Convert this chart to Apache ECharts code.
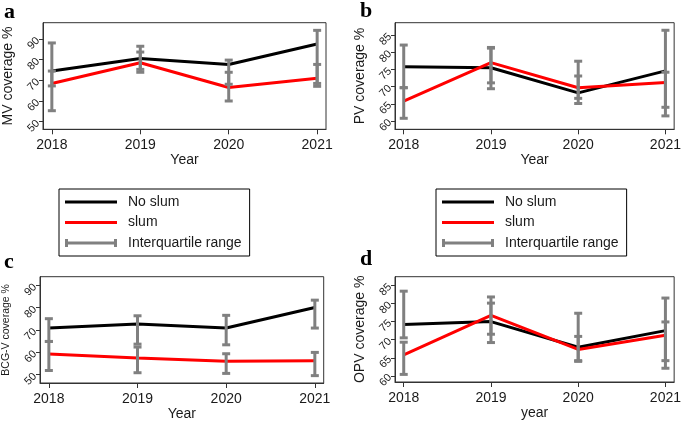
<!DOCTYPE html>
<html>
<head>
<meta charset="utf-8">
<script src="https://cdn.jsdelivr.net/npm/echarts@6/dist/echarts.min.js"></script>
<style>html,body{margin:0;padding:0;background:#fff;}#c{width:684px;height:424px;}</style>
</head>
<body>
<div id="c"></div>
<script>
const years = [2018, 2019, 2020, 2021];

const mvNoSlum = [74.5, 80.6, 77.7, 87.6];
const mvSlum = [68.5, 78.5, 66.5, 71.0];
const mvIqrNoSlum = [[67.3, 88.1], [75.3, 86.5], [68.1, 79.8], [68.5, 94.2]];
const mvIqrSlum = [[55.3, 74.5], [73.9, 83.7], [60.0, 73.9], [67.1, 77.7]];

const pvNoSlum = [75.8, 75.5, 68.2, 74.6];
const pvSlum = [65.8, 77.0, 69.7, 71.2];
const pvIqrNoSlum = [[69.7, 82.1], [71.1, 81.4], [65.1, 73.1], [64.0, 86.4]];
const pvIqrSlum = [[60.8, 69.7], [69.4, 81.2], [66.6, 77.4], [61.5, 74.2]];

const bcgNoSlum = [70.9, 72.7, 70.9, 80.1];
const bcgSlum = [59.3, 57.5, 56.0, 56.3];
const bcgIqrNoSlum = [[64.9, 75.1], [63.7, 76.4], [63.4, 76.6], [70.9, 83.4]];
const bcgIqrSlum = [[51.9, 64.9], [50.9, 62.4], [50.6, 59.4], [49.6, 60.0]];

const opvNoSlum = [74.2, 75.0, 67.9, 72.5];
const opvSlum = [65.8, 76.7, 67.3, 71.2];
const opvIqrNoSlum = [[70.5, 83.4], [71.5, 81.8], [64.2, 77.3], [64.2, 81.5]];
const opvIqrSlum = [[60.4, 69.3], [69.2, 80.1], [64.0, 70.9], [62.1, 74.9]];

const ticksTen = [50, 60, 70, 80, 90];
const ticksFive = [60, 65, 70, 75, 80, 85];

const FONT = "'Liberation Sans', Arial, sans-serif";
const TXT = '#1a1a1a';

const panels = [
  {grid: {left: 42.7, top: 22.7, width: 283.3, height: 106.6}, ymin: 46.3, ymax: 97.9, ticks: ticksTen,
   yname: 'MV coverage %', ynameSize: 14, xname: 'Year', noSlum: mvNoSlum, slum: mvSlum, iqrA: mvIqrNoSlum, iqrB: mvIqrSlum},
  {grid: {left: 395, top: 22.7, width: 282, height: 106.6}, ymin: 57.6, ymax: 88.6, ticks: ticksFive,
   yname: 'PV coverage %', ynameSize: 14, xname: 'Year', noSlum: pvNoSlum, slum: pvSlum, iqrA: pvIqrNoSlum, iqrB: pvIqrSlum},
  {grid: {left: 39, top: 276.7, width: 284.7, height: 106.3}, ymin: 46.3, ymax: 93.9, ticks: ticksTen,
   yname: 'BCG-V coverage %', ynameSize: 10.5, xname: 'Year', noSlum: bcgNoSlum, slum: bcgSlum, iqrA: bcgIqrNoSlum, iqrB: bcgIqrSlum},
  {grid: {left: 395, top: 276.7, width: 282, height: 105.3}, ymin: 58.3, ymax: 87.4, ticks: ticksFive,
   yname: 'OPV coverage %', ynameSize: 14, xname: 'year', noSlum: opvNoSlum, slum: opvSlum, iqrA: opvIqrNoSlum, iqrB: opvIqrSlum}
];

function renderIqr(params, api) {
  const x = api.value(0), lo = api.value(1), hi = api.value(2);
  const p1 = api.coord([x, lo]);
  const p2 = api.coord([x, hi]);
  const cw = 4;
  const st = {stroke: '#808080', lineWidth: 3};
  return {
    type: 'group',
    children: [
      {type: 'line', shape: {x1: p1[0], y1: p1[1], x2: p2[0], y2: p2[1]}, style: st},
      {type: 'line', shape: {x1: p1[0] - cw, y1: p1[1], x2: p1[0] + cw, y2: p1[1]}, style: st},
      {type: 'line', shape: {x1: p2[0] - cw, y1: p2[1], x2: p2[0] + cw, y2: p2[1]}, style: st}
    ]
  };
}

const grids = [], xAxes = [], yAxes = [], series = [];
panels.forEach((p, i) => {
  grids.push(Object.assign({show: true, borderColor: '#333', borderWidth: 1, backgroundColor: '#fff'}, p.grid));
  xAxes.push({
    type: 'value', gridIndex: i, min: 2017.9, max: 2021.1,
    name: p.xname, nameLocation: 'middle', nameGap: 22,
    nameTextStyle: {fontFamily: FONT, fontSize: 14, color: TXT},
    axisLine: {show: true, onZero: false, lineStyle: {color: '#333', width: 1}},
    axisTick: {show: true, length: 5, customValues: years, lineStyle: {color: '#333'}},
    axisLabel: {customValues: years, fontFamily: FONT, fontSize: 14, color: TXT, margin: 9, formatter: v => String(v)},
    splitLine: {show: false}
  });
  yAxes.push({
    type: 'value', gridIndex: i, min: p.ymin, max: p.ymax,
    name: p.yname, nameLocation: 'middle', nameGap: 28, nameRotate: 90,
    nameTextStyle: {fontFamily: FONT, fontSize: p.ynameSize, color: TXT},
    axisLine: {show: true, onZero: false, lineStyle: {color: '#333', width: 1}},
    axisTick: {show: true, length: 4, customValues: p.ticks, lineStyle: {color: '#333'}},
    axisLabel: {customValues: p.ticks, rotate: 45, fontFamily: FONT, fontSize: 11, color: TXT, margin: 5},
    splitLine: {show: false}
  });
  series.push({
    name: 'No slum', type: 'line', xAxisIndex: i, yAxisIndex: i,
    data: years.map((y, k) => [y, p.noSlum[k]]),
    symbol: 'none', color: '#000', itemStyle: {color: '#000'}, lineStyle: {color: '#000', width: 3}, z: 2
  });
  series.push({
    name: 'slum', type: 'line', xAxisIndex: i, yAxisIndex: i,
    data: years.map((y, k) => [y, p.slum[k]]),
    symbol: 'none', color: '#ff0000', itemStyle: {color: '#ff0000'}, lineStyle: {color: '#ff0000', width: 3}, z: 3
  });
  series.push({
    name: 'Interquartile range', type: 'custom', xAxisIndex: i, yAxisIndex: i,
    renderItem: renderIqr, itemStyle: {color: '#808080'}, color: '#808080',
    encode: {x: 0, y: [1, 2]},
    data: years.map((y, k) => [y, p.iqrA[k][0], p.iqrA[k][1]]).concat(years.map((y, k) => [y, p.iqrB[k][0], p.iqrB[k][1]])),
    z: 4
  });
});

const lineIcon = 'path://M0,0 L52,0 L52,3 L0,3 Z';
const iqrIcon = 'path://M0,0 L3,0 L3,2.5 L49,2.5 L49,0 L52,0 L52,8 L49,8 L49,5.5 L3,5.5 L3,8 L0,8 Z';
const legendData = [
  {name: 'No slum', icon: lineIcon},
  {name: 'slum', icon: lineIcon},
  {name: 'Interquartile range', icon: iqrIcon}
];
function mkLegend(left) {
  return {
    left: left, top: 189, orient: 'vertical', data: legendData,
    itemWidth: 52, itemHeight: 8, itemGap: 4.5,
    borderColor: '#000', borderWidth: 1, padding: [5, 8, 5, 6],
    selectedMode: false,
    textStyle: {fontFamily: FONT, fontSize: 14, color: TXT, lineHeight: 16, padding: [0, 0, 0, 6]}
  };
}

const letterStyle = {fontFamily: "'Liberation Serif', 'Times New Roman', serif", fontWeight: 'bold', fontSize: 22, fill: '#000'};
const option = {
  animation: false,
  backgroundColor: '#fff',
  grid: grids, xAxis: xAxes, yAxis: yAxes, series: series,
  legend: [mkLegend(59), mkLegend(436)],
  graphic: [
    {type: 'text', left: 4, top: 1, style: Object.assign({text: 'a'}, letterStyle)},
    {type: 'text', left: 360, top: 0, style: Object.assign({text: 'b'}, letterStyle)},
    {type: 'text', left: 4, top: 251, style: Object.assign({text: 'c'}, letterStyle)},
    {type: 'text', left: 360, top: 248, style: Object.assign({text: 'd'}, letterStyle)}
  ]
};

const chart = echarts.init(document.getElementById('c'), null, {renderer: 'canvas'});
chart.setOption(option);
</script>
</body>
</html>
